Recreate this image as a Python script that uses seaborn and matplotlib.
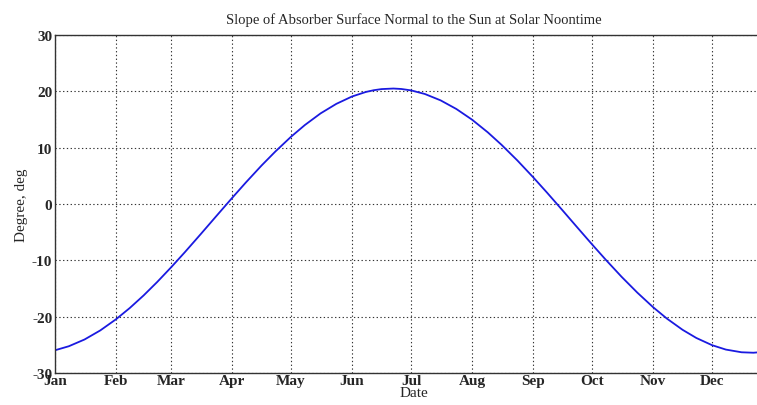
import matplotlib
matplotlib.use('Agg')
import matplotlib.pyplot as plt
import seaborn as sns
import pandas as pd

# 读取自图片的数据（距1月1日的天数, 坡度）
days = [0, 7, 15, 23, 31, 38, 45, 52, 59, 66, 74, 82, 90, 97, 105, 112, 120,
        127, 135, 143, 151, 158, 162, 166, 172, 176, 181, 188, 196, 204, 212,
        220, 227, 235, 243, 250, 258, 265, 273, 280, 288, 296, 304, 311, 319,
        326, 334, 341, 349, 355, 360, 364]
slope = [-25.96, -25.25, -24.05, -22.44, -20.46, -18.46, -16.24, -13.82,
         -11.24, -8.55, -5.37, -2.14, 1.07, 3.82, 6.84, 9.32, 11.95, 14.02,
         16.09, 17.78, 19.09, 19.89, 20.20, 20.40, 20.50, 20.42, 20.17, 19.53,
         18.40, 16.87, 14.97, 12.72, 10.50, 7.74, 4.77, 2.06, -1.13, -3.96,
         -7.17, -9.91, -12.92, -15.73, -18.31, -20.33, -22.33, -23.78, -25.06,
         -25.84, -26.32, -26.40, -26.26, -26.04]

month_pos = [0, 31, 59, 90, 120, 151, 181, 212, 243, 273, 304, 334]
month_labels = ['Jan', 'Feb', 'Mar', 'Apr', 'May', 'Jun',
                'Jul', 'Aug', 'Sep', 'Oct', 'Nov', 'Dec']
y_ticks = [-30, -20, -10, 0, 10, 20, 30]

df = pd.DataFrame({'day': days, 'slope': slope})

sns.set_style('white')
plt.rcParams['font.family'] = ['Liberation Serif', 'DejaVu Serif']

fig = plt.figure(figsize=(7.57, 4.06), dpi=100)
# 右侧超出画布（原图被裁切）
ax = fig.add_axes([0.0727, 0.0788, 0.9485, 0.8325])

sns.lineplot(data=df, x='day', y='slope', color='#1a1ae0', linewidth=1.3, ax=ax)

ax.set_xlim(0, 365)
ax.set_ylim(-30, 30)
ax.set_xticks(month_pos)
ax.set_xticklabels(month_labels, fontsize=11, fontweight='semibold')
ax.set_yticks(y_ticks)
ax.set_yticklabels([str(v) for v in y_ticks], fontsize=11, fontweight='bold')
ax.tick_params(direction='in', length=4, width=0.8, color='#333333', pad=2)
ax.tick_params(axis='x', pad=1)

ax.grid(True, color='#333333', linestyle=(0, (1.2, 2.2)), linewidth=0.8)
for s in ax.spines.values():
    s.set_color('#333333')
    s.set_linewidth(1.0)

ax.set_title('Slope of Absorber Surface Normal to the Sun at Solar Noontime',
             fontsize=10.5, pad=9)
ax.set_xlabel('Date', fontsize=11, labelpad=-1)
ax.set_ylabel('Degree, deg', fontsize=11, labelpad=3)

fig.savefig('out.png', dpi=100)
plt.close(fig)
